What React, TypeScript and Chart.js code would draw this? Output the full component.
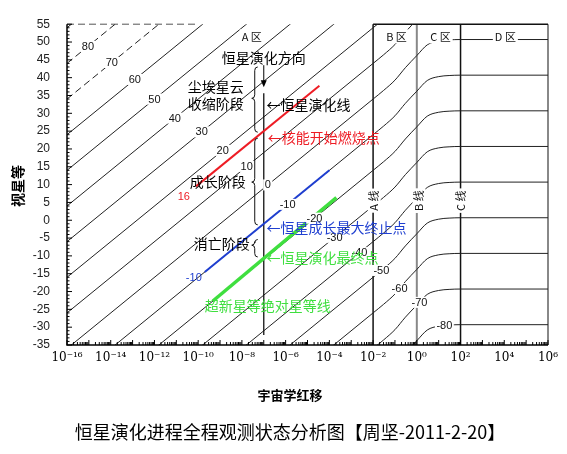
import { useEffect, useRef } from "react";
import { Chart, registerables } from "chart.js";

Chart.register(...registerables);

// ---------------- data ----------------
// absolute-magnitude contour levels
const contourLevels = [90, 80, 70, 60, 50, 40, 30, 20, 10, 0, -10, -20, -30, -40, -50, -60, -70, -80];
const dashedLevels = [90, 80, 70];
// shape of every contour: redshift and apparent-minus-absolute magnitude
const curveZ = [1e-16, 1e-2, 0.03, 0.1, 0.3, 1, 3, 10, 30, 100, 1e6];
const curveOffset = [-36, 34, 36.4, 39.3, 42.8, 46.2, 49.2, 50.3, 50.6, 50.7, 50.7];

// contour labels (level, log10 redshift where the label sits)
const labelLevels = [80, 70, 60, 50, 40, 30, 20, 10, 0, -10, -20, -30, -40, -50, -60, -70, -80];
const labelLogZ = [-15.04, -13.95, -12.9, -12.0, -11.07, -9.84, -8.88, -7.78, -6.82, -5.91, -4.68, -3.76, -2.62, -1.62, -0.79, 0.12, 1.26];

// highlighted lines
const redZ = [7.9e-11, 3.5e-5];
const redM = [9.5, 37.75];
const blueZ = [2e-10, 1e-4];
const blueM = [-14.5, 14];
const greenZ = [4.7e-10, 2.1e-4];
const greenM = [-22.65, 6.35];
// star evolution line (vertical)
const evoZ = [1e-7, 1e-7];
const evoM = [35.6, -32.2];
const arrowM = [43.5, 37.3];

// zone boundary lines
const zoneZ = [1e-2, 1, 1e2, 1e6];
const zoneColors = ["#111", "#888", "#111", "#888"];
const zoneWidths = [1.5, 2, 1.5, 2];
const zoneLabels = ["A 区", "B 区", "C 区", "D 区"];
const zoneLabelLogZ = [-7.55, -0.93, 1.08, 4.05];
const zoneLineLabels = ["A 线", "B 线", "C 线"];
const zoneLineLabelLogZ = [-1.95, 0.1, 2.0];

// axis ticks
const xTickExps = [-16, -14, -12, -10, -8, -6, -4, -2, 0, 2, 4, 6];
const yMin = -35;
const yMax = 55;

// braces: [log z, top mag, bottom mag, tip mag]
const braceLogZ = [-7.55, -7.55, -7.55];
const braceTop = [43.0, 23.0, -5.4];
const braceBottom = [24.7, -1.3, -10.3];
const braceTip = [34.2, 10.7, -7.0];

const RED = "#ee1c24";
const BLUE = "#1f3fd0";
const GREEN = "#3fdf3f";
const CJK = '"Noto Sans CJK SC", sans-serif';

type Note = { text: string; logZ: number; mag: number; color: string; align: CanvasTextAlign; size: number };
const notes: Note[] = [
  { text: "恒星演化方向", logZ: -7.0, mag: 45.7, color: "#000", align: "center", size: 14 },
  { text: "尘埃星云", logZ: -9.2, mag: 37.5, color: "#000", align: "center", size: 14 },
  { text: "收缩阶段", logZ: -9.2, mag: 32.6, color: "#000", align: "center", size: 14 },
  { text: "←恒星演化线", logZ: -6.87, mag: 32.3, color: "#000", align: "left", size: 14 },
  { text: "←核能开始燃烧点", logZ: -6.82, mag: 23.3, color: RED, align: "left", size: 14 },
  { text: "成长阶段", logZ: -9.1, mag: 10.7, color: "#000", align: "center", size: 14 },
  { text: "消亡阶段", logZ: -8.92, mag: -6.7, color: "#000", align: "center", size: 14 },
  { text: "←恒星成长最大终止点", logZ: -6.87, mag: -2.1, color: BLUE, align: "left", size: 14 },
  { text: "←恒星演化最终点", logZ: -6.87, mag: -10.6, color: GREEN, align: "left", size: 14 },
  { text: "超新星等绝对星等线", logZ: -6.82, mag: -24, color: GREEN, align: "center", size: 14 },
  { text: "16", logZ: -10.66, mag: 6.6, color: RED, align: "center", size: 11 },
  { text: "-10", logZ: -10.2, mag: -16.3, color: BLUE, align: "center", size: 11 },
];

const supMap: Record<string, string> = {
  "-": "⁻", "0": "⁰", "1": "¹", "2": "²", "3": "³", "4": "⁴", "5": "⁵", "6": "⁶", "7": "⁷", "8": "⁸", "9": "⁹",
};
const sup = (n: number) => String(n).split("").map((c) => supMap[c] || c).join("");

const curveLog = curveZ.map((z) => Math.log10(z));
function offsetAt(lz: number) {
  for (let i = 0; i < curveLog.length - 1; i++) {
    if (lz <= curveLog[i + 1]) {
      const t = (lz - curveLog[i]) / (curveLog[i + 1] - curveLog[i]);
      return curveOffset[i] + t * (curveOffset[i + 1] - curveOffset[i]);
    }
  }
  return curveOffset[curveOffset.length - 1];
}

function seg(xs: number[], ys: number[]) {
  return xs.map((x, i) => ({ x, y: ys[i] }));
}

const overlay = {
  id: "overlay",
  beforeDatasetsDraw(chart: any) {
    const { ctx, chartArea: a, scales } = chart;
    const x = scales.x;
    const y = scales.y;
    ctx.save();
    zoneZ.forEach((z, i) => {
      const px = x.getPixelForValue(z);
      ctx.strokeStyle = zoneColors[i];
      ctx.lineWidth = zoneWidths[i];
      ctx.beginPath();
      ctx.moveTo(px, a.top);
      ctx.lineTo(px, a.bottom);
      ctx.stroke();
    });
    // top border
    ctx.strokeStyle = "#111";
    ctx.lineWidth = 1.5;
    ctx.beginPath();
    ctx.moveTo(x.getPixelForValue(zoneZ[0]), y.getPixelForValue(yMax));
    ctx.lineTo(x.getPixelForValue(zoneZ[3]), y.getPixelForValue(yMax));
    ctx.stroke();
    ctx.setLineDash([7, 4]);
    ctx.strokeStyle = "#555";
    ctx.lineWidth = 1;
    ctx.beginPath();
    ctx.moveTo(a.left, a.top);
    ctx.lineTo(x.getPixelForValue(1e-10), a.top);
    ctx.stroke();
    ctx.restore();
  },
  afterDatasetsDraw(chart: any) {
    const { ctx, chartArea: a, scales } = chart;
    const x = scales.x;
    const y = scales.y;
    const P = (lz: number, m: number) => [x.getPixelForValue(Math.pow(10, lz)), y.getPixelForValue(m)];
    ctx.save();
    ctx.textBaseline = "middle";

    // contour labels
    ctx.font = '11px "Liberation Sans", Arial, sans-serif';
    ctx.textAlign = "center";
    labelLevels.forEach((lv, i) => {
      const [px, py] = P(labelLogZ[i], lv + offsetAt(labelLogZ[i]));
      const t = String(lv);
      const w = ctx.measureText(t).width;
      ctx.fillStyle = "#fff";
      ctx.fillRect(px - w / 2 - 1.5, py - 5.5, w + 3, 11);
      ctx.fillStyle = "#111";
      ctx.fillText(t, px, py + 0.5);
    });

    // zone labels
    ctx.font = `11px ${CJK}`;
    zoneLabels.forEach((t, i) => {
      const [px, py] = P(zoneLabelLogZ[i], 51.6);
      const w = ctx.measureText(t).width;
      ctx.fillStyle = "#fff";
      ctx.fillRect(px - w / 2 - 2, py - 7, w + 4, 14);
      ctx.fillStyle = "#111";
      ctx.fillText(t, px, py);
    });
    // zone line labels (rotated)
    zoneLineLabels.forEach((t, i) => {
      const [px, py] = P(zoneLineLabelLogZ[i], 5.5);
      ctx.save();
      ctx.translate(px, py);
      ctx.rotate(-Math.PI / 2);
      const w = ctx.measureText(t).width;
      ctx.fillStyle = "#fff";
      ctx.fillRect(-w / 2 - 2, -6.5, w + 4, 13);
      ctx.fillStyle = "#111";
      ctx.fillText(t, 0, 0);
      ctx.restore();
    });

    // braces
    ctx.strokeStyle = "#111";
    ctx.lineWidth = 1;
    braceLogZ.forEach((lz, i) => {
      const [bx, y1] = P(lz, braceTop[i]);
      const y2 = y.getPixelForValue(braceBottom[i]);
      const yt = y.getPixelForValue(braceTip[i]);
      const w = 6;
      const r = 3.5;
      ctx.beginPath();
      ctx.moveTo(bx + w, y1);
      ctx.quadraticCurveTo(bx + w / 2, y1, bx + w / 2, y1 + r);
      ctx.lineTo(bx + w / 2, yt - r);
      ctx.quadraticCurveTo(bx + w / 2, yt, bx, yt);
      ctx.quadraticCurveTo(bx + w / 2, yt, bx + w / 2, yt + r);
      ctx.lineTo(bx + w / 2, y2 - r);
      ctx.quadraticCurveTo(bx + w / 2, y2, bx + w, y2);
      ctx.stroke();
    });

    // arrow
    {
      const ax = x.getPixelForValue(evoZ[0]);
      const ay1 = y.getPixelForValue(arrowM[0]);
      const ay2 = y.getPixelForValue(arrowM[1]);
      ctx.strokeStyle = "#000";
      ctx.lineWidth = 1;
      ctx.beginPath();
      ctx.moveTo(ax, ay1);
      ctx.lineTo(ax, ay2 - 5);
      ctx.stroke();
      ctx.fillStyle = "#000";
      ctx.beginPath();
      ctx.moveTo(ax - 3, ay2 - 7);
      ctx.lineTo(ax + 3, ay2 - 7);
      ctx.lineTo(ax, ay2);
      ctx.closePath();
      ctx.fill();
    }

    // notes
    notes.forEach((n) => {
      const [px, py] = P(n.logZ, n.mag);
      ctx.font = n.size >= 14 ? `${n.size}px ${CJK}` : `${n.size}px "Liberation Sans", Arial, sans-serif`;
      ctx.fillStyle = n.color;
      ctx.textAlign = n.align;
      ctx.fillText(n.text, px, py);
    });

    // axes
    ctx.strokeStyle = "#000";
    ctx.lineWidth = 1.5;
    ctx.beginPath();
    ctx.moveTo(a.left, a.top);
    ctx.lineTo(a.left, a.bottom);
    ctx.lineTo(a.right, a.bottom);
    ctx.stroke();
    ctx.lineWidth = 1;
    ctx.beginPath();
    for (let e = xTickExps[0]; e <= xTickExps[xTickExps.length - 1]; e++) {
      for (let k = 1; k <= 9; k++) {
        const v = k * Math.pow(10, e);
        if (v > 1e6 * 1.0001) break;
        const px = x.getPixelForValue(v);
        const len = k === 1 ? 5 : 3;
        ctx.moveTo(px, a.bottom);
        ctx.lineTo(px, a.bottom - len);
      }
    }
    for (let v = yMin; v <= yMax; v++) {
      const py = y.getPixelForValue(v);
      const len = v % 5 === 0 ? 5 : 2.5;
      ctx.moveTo(a.left, py);
      ctx.lineTo(a.left + len, py);
    }
    ctx.stroke();

    // titles
    ctx.fillStyle = "#000";
    ctx.textAlign = "center";
    ctx.font = `bold 13px ${CJK}`;
    ctx.fillText("宇宙学红移", 290, 395);
    ctx.save();
    ctx.translate(18, 186);
    ctx.rotate(-Math.PI / 2);
    ctx.font = `bold 14px ${CJK}`;
    ctx.fillText("视星等", 0, 0);
    ctx.restore();
    ctx.font = `18px ${CJK}`;
    ctx.fillText("恒星演化进程全程观测状态分析图【周坚-2011-2-20】", 290, 432);
    ctx.restore();
  },
};

export default function App() {
  const ref = useRef<HTMLCanvasElement | null>(null);
  useEffect(() => {
    if (!ref.current) return;
    const datasets: any[] = [
      { data: seg(greenZ, greenM), borderColor: GREEN, borderWidth: 3.5 },
      { data: seg(blueZ, blueM), borderColor: BLUE, borderWidth: 2 },
      { data: seg(redZ, redM), borderColor: RED, borderWidth: 2 },
      { data: seg(evoZ, evoM), borderColor: "#111", borderWidth: 1.3 },
      ...contourLevels.map((lv) => ({
        data: curveZ.map((z, i) => ({ x: z, y: lv + curveOffset[i] })),
        borderColor: "#222",
        borderWidth: 1,
        borderDash: dashedLevels.includes(lv) ? [7, 4] : [],
        cubicInterpolationMode: "monotone",
      })),
    ].map((d) => ({ pointRadius: 0, fill: false, ...d }));

    const chart = new Chart(ref.current, {
      type: "line",
      data: { datasets },
      options: {
        animation: false,
        responsive: true,
        maintainAspectRatio: false,
        devicePixelRatio: 1,
        layout: { padding: { top: 16, right: 19, left: 0, bottom: 0 } },
        plugins: { legend: { display: false }, tooltip: { enabled: false }, title: { display: false } },
        scales: {
          x: {
            type: "logarithmic",
            min: 1e-16,
            max: 1e6,
            afterBuildTicks: (s: any) => {
              s.ticks = xTickExps.map((e) => ({ value: Math.pow(10, e) }));
            },
            afterFit: (s: any) => {
              s.height = 109;
            },
            grid: { display: false, drawTicks: false },
            border: { display: false },
            ticks: {
              autoSkip: false,
              maxRotation: 0,
              minRotation: 0,
              padding: 6,
              color: "#000",
              font: { family: '"DejaVu Serif", serif', size: 12 },
              callback: (v: any) => "10" + sup(Math.round(Math.log10(Number(v)))),
            },
          },
          y: {
            type: "linear",
            min: yMin,
            max: yMax,
            afterFit: (s: any) => {
              s.width = 67;
            },
            grid: { display: false, drawTicks: false },
            border: { display: false },
            ticks: {
              stepSize: 5,
              padding: 17,
              color: "#222",
              font: { family: '"Liberation Sans", Arial, sans-serif', size: 12 },
            },
          },
        },
      },
      plugins: [overlay],
    } as any);
    return () => chart.destroy();
  }, []);
  return (
    <div style={{ position: "absolute", left: 0, top: 0, width: 567, height: 454, background: "#fff" }}>
      <canvas ref={ref} />
    </div>
  );
}
